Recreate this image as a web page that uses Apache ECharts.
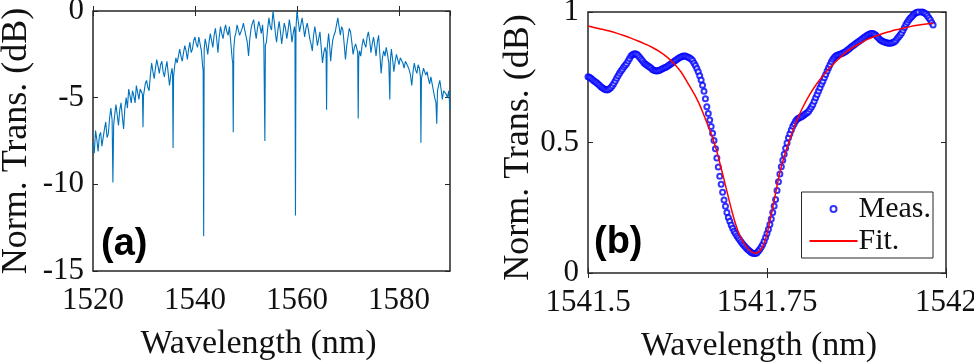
<!DOCTYPE html>
<html>
<head>
<meta charset="utf-8">
<script src="https://cdn.jsdelivr.net/npm/echarts@6/dist/echarts.min.js"></script>
<style>
  html, body { margin: 0; padding: 0; background: #fff; }
  #chart { width: 974px; height: 364px; }
</style>
</head>
<body>
<div id="chart"></div>
<script>
// (a) broadband transmission spectrum, [wavelength nm, dB]
const specA = [
  [1520.00,-7.6],[1520.25,-8.2],[1520.50,-6.9],[1520.75,-7.4],[1521.00,-8.1],[1521.25,-7.2],[1521.50,-7.0],[1521.75,-7.8],
  [1522.00,-7.9],[1522.25,-6.8],[1522.50,-6.4],[1522.75,-7.3],[1523.00,-7.1],[1523.25,-6.2],[1523.50,-5.6],[1523.75,-6.3],
  [1523.90,-9.9],[1524.05,-6.6],[1524.25,-6.0],[1524.50,-5.4],[1524.75,-6.0],[1525.00,-6.6],[1525.25,-5.7],[1525.50,-5.3],
  [1525.75,-6.1],[1526.00,-6.8],[1526.25,-5.6],[1526.50,-5.0],[1526.75,-5.6],[1527.00,-4.5],[1527.25,-4.9],[1527.50,-5.3],
  [1527.75,-4.6],[1528.00,-4.9],[1528.25,-5.3],[1528.50,-4.3],[1528.75,-4.7],[1529.00,-5.1],[1529.25,-4.5],[1529.50,-4.4],
  [1529.70,-4.8],[1529.80,-6.7],[1529.90,-4.9],[1530.25,-4.2],[1530.50,-4.0],[1530.75,-4.4],[1531.00,-4.6],[1531.25,-3.7],
  [1531.50,-3.0],[1531.75,-3.5],[1532.00,-3.9],[1532.25,-3.3],[1532.50,-2.8],[1532.75,-3.2],[1533.00,-3.6],[1533.25,-3.1],
  [1533.50,-2.9],[1533.75,-3.5],[1534.00,-3.8],[1534.25,-3.3],[1534.50,-2.9],[1534.75,-3.6],[1535.00,-4.3],[1535.25,-3.7],
  [1535.50,-3.3],[1535.60,-3.6],[1535.70,-7.9],[1535.80,-3.8],[1536.00,-3.2],[1536.25,-2.7],[1536.50,-3.0],[1536.75,-2.6],
  [1537.00,-2.2],[1537.25,-2.6],[1537.50,-2.9],[1537.75,-2.4],[1538.00,-2.0],[1538.25,-2.3],[1538.50,-2.8],[1538.75,-2.2],
  [1539.00,-1.8],[1539.25,-2.4],[1539.50,-2.2],[1539.75,-1.7],[1540.00,-1.5],[1540.25,-1.9],[1540.50,-2.1],[1540.75,-1.5],
  [1541.00,-1.6],[1541.25,-2.3],[1541.50,-3.2],[1541.60,-3.4],[1541.70,-13.0],[1541.80,-2.2],[1542.00,-1.6],[1542.25,-2.0],
  [1542.50,-2.5],[1542.75,-1.8],[1543.00,-1.3],[1543.25,-1.7],[1543.50,-2.1],[1543.75,-1.4],[1544.00,-1.0],[1544.25,-1.6],
  [1544.50,-2.4],[1544.75,-1.5],[1545.00,-0.9],[1545.25,-1.3],[1545.50,-1.6],[1545.75,-1.1],[1546.00,-0.8],[1546.25,-1.2],
  [1546.50,-1.4],[1546.75,-0.9],[1547.00,-1.0],[1547.30,-2.8],[1547.40,-3.0],[1547.50,-7.0],[1547.60,-2.2],[1547.80,-1.5],
  [1548.00,-1.3],[1548.25,-0.8],[1548.50,-0.9],[1548.75,-1.4],[1549.00,-1.5],[1549.25,-1.0],[1549.50,-0.7],[1549.75,-1.1],
  [1550.00,-1.2],[1550.25,-1.8],[1550.50,-2.6],[1550.75,-1.6],[1551.00,-1.0],[1551.25,-0.7],[1551.50,-0.5],[1551.75,-1.1],
  [1552.00,-1.6],[1552.25,-1.0],[1552.50,-0.6],[1552.75,-0.9],[1553.00,-1.3],[1553.25,-0.8],[1553.50,-1.9],[1553.60,-2.0],
  [1553.70,-7.5],[1553.80,-2.0],[1554.00,-1.8],[1554.25,-1.0],[1554.50,-0.4],[1554.75,-0.9],[1555.00,-1.1],[1555.30,0.0],
  [1555.60,-0.8],[1555.80,-1.4],[1556.00,-1.8],[1556.25,-1.1],[1556.50,-0.6],[1556.75,-1.2],[1557.00,-1.9],[1557.25,-1.3],
  [1557.50,-0.7],[1557.75,-1.0],[1558.00,-1.6],[1558.25,-1.1],[1558.50,-0.5],[1558.75,-1.0],[1559.00,-1.8],[1559.25,-1.3],
  [1559.50,-0.9],[1559.60,-1.2],[1559.70,-11.8],[1559.80,-1.0],[1560.00,0.0],[1560.25,-0.6],[1560.50,-1.2],[1560.75,-0.8],
  [1561.00,-0.4],[1561.25,-0.9],[1561.50,-1.5],[1561.75,-1.0],[1562.00,-0.7],[1562.25,-1.1],[1562.50,-1.6],[1562.75,-1.9],
  [1563.00,-2.3],[1563.25,-1.4],[1563.50,-0.9],[1563.75,-1.4],[1564.00,-2.0],[1564.25,-1.6],[1564.50,-1.2],[1564.75,-2.1],
  [1565.00,-3.0],[1565.25,-2.4],[1565.50,-2.1],[1565.70,-2.4],[1565.80,-5.7],[1565.90,-2.2],[1566.20,-1.3],[1566.40,-2.0],
  [1566.60,-2.9],[1566.80,-2.2],[1567.00,-1.7],[1567.25,-1.4],[1567.50,-1.2],[1567.75,-0.8],[1568.00,-0.4],[1568.25,-0.9],
  [1568.50,-1.4],[1568.75,-0.9],[1569.00,-1.1],[1569.25,-1.9],[1569.50,-2.8],[1569.75,-2.0],[1570.00,-1.5],[1570.25,-1.0],
  [1570.50,-1.2],[1570.75,-1.8],[1571.00,-2.5],[1571.25,-2.1],[1571.50,-1.9],[1571.75,-2.2],[1571.90,-2.4],[1572.00,-6.2],
  [1572.10,-2.7],[1572.25,-2.3],[1572.50,-2.6],[1572.75,-2.0],[1573.00,-1.6],[1573.25,-1.9],[1573.50,-2.1],[1573.75,-1.5],
  [1574.00,-1.2],[1574.25,-1.7],[1574.50,-2.4],[1574.75,-1.9],[1575.00,-1.5],[1575.25,-2.0],[1575.50,-2.6],[1575.75,-1.8],
  [1576.00,-1.4],[1576.25,-2.5],[1576.50,-3.6],[1576.75,-2.7],[1577.00,-2.3],[1577.25,-2.6],[1577.50,-2.1],[1577.75,-2.5],
  [1578.00,-3.0],[1578.10,-3.1],[1578.20,-5.1],[1578.30,-2.9],[1578.50,-2.2],[1578.75,-2.8],[1579.00,-3.5],[1579.25,-2.9],
  [1579.50,-2.5],[1579.75,-2.8],[1580.00,-3.1],[1580.25,-2.7],[1580.50,-2.6],[1580.75,-3.0],[1581.00,-3.3],[1581.25,-2.9],
  [1581.50,-2.8],[1581.75,-3.2],[1582.00,-3.4],[1582.25,-3.7],[1582.50,-4.3],[1582.75,-3.5],[1583.00,-3.0],[1583.25,-3.4],
  [1583.50,-3.6],[1583.75,-3.1],[1584.00,-3.3],[1584.20,-3.8],[1584.30,-7.6],[1584.40,-3.9],[1584.60,-3.6],[1584.80,-3.3],
  [1585.00,-3.2],[1585.25,-3.7],[1585.50,-3.5],[1585.75,-3.9],[1586.00,-4.2],[1586.25,-3.8],[1586.50,-3.9],[1586.75,-4.6],
  [1587.00,-5.0],[1587.25,-5.3],[1587.40,-6.5],[1587.55,-4.6],[1587.75,-4.3],[1588.00,-4.0],[1588.25,-4.5],[1588.50,-5.1],
  [1588.75,-4.6],[1589.00,-4.5],[1589.25,-4.8],[1589.50,-5.0],[1589.75,-4.6],[1590.00,-5.7]
];

// (b) single resonance, measured points [wavelength nm, normalized T]
const measB = [
  [1541.500,0.752],[1541.502,0.750],[1541.504,0.746],[1541.506,0.741],[1541.508,0.737],[1541.510,0.733],
  [1541.512,0.729],[1541.514,0.724],[1541.516,0.719],[1541.518,0.714],[1541.520,0.710],[1541.522,0.706],
  [1541.524,0.703],[1541.526,0.701],[1541.528,0.702],[1541.530,0.706],[1541.532,0.711],[1541.534,0.717],
  [1541.536,0.726],[1541.538,0.736],[1541.540,0.746],[1541.542,0.756],[1541.544,0.765],[1541.546,0.774],
  [1541.548,0.781],[1541.550,0.789],[1541.552,0.796],[1541.554,0.803],[1541.556,0.812],[1541.558,0.822],
  [1541.560,0.831],[1541.562,0.836],[1541.564,0.839],[1541.566,0.840],[1541.568,0.838],[1541.570,0.833],
  [1541.572,0.827],[1541.574,0.820],[1541.576,0.813],[1541.578,0.806],[1541.580,0.801],[1541.582,0.797],
  [1541.584,0.793],[1541.586,0.789],[1541.588,0.785],[1541.590,0.780],[1541.592,0.777],[1541.594,0.775],
  [1541.596,0.774],[1541.598,0.775],[1541.600,0.777],[1541.602,0.780],[1541.604,0.783],[1541.606,0.785],
  [1541.608,0.787],[1541.610,0.790],[1541.612,0.794],[1541.614,0.798],[1541.616,0.802],[1541.618,0.806],
  [1541.620,0.810],[1541.622,0.814],[1541.624,0.818],[1541.626,0.822],[1541.628,0.826],[1541.630,0.828],
  [1541.632,0.830],[1541.634,0.831],[1541.636,0.831],[1541.638,0.829],[1541.640,0.827],[1541.642,0.824],
  [1541.644,0.820],[1541.646,0.814],[1541.648,0.805],[1541.650,0.795],[1541.652,0.784],[1541.654,0.771],
  [1541.656,0.756],[1541.658,0.739],[1541.660,0.719],[1541.662,0.696],[1541.664,0.668],[1541.666,0.637],
  [1541.668,0.611],[1541.670,0.586],[1541.672,0.561],[1541.674,0.535],[1541.676,0.508],[1541.678,0.476],
  [1541.680,0.441],[1541.682,0.406],[1541.684,0.371],[1541.686,0.340],[1541.688,0.309],[1541.690,0.280],
  [1541.692,0.256],[1541.694,0.232],[1541.696,0.213],[1541.698,0.198],[1541.700,0.184],[1541.702,0.171],
  [1541.704,0.160],[1541.706,0.151],[1541.708,0.142],[1541.710,0.134],[1541.712,0.126],[1541.714,0.119],
  [1541.716,0.111],[1541.718,0.105],[1541.720,0.099],[1541.722,0.093],[1541.724,0.088],[1541.726,0.083],
  [1541.728,0.079],[1541.730,0.076],[1541.732,0.075],[1541.734,0.075],[1541.736,0.078],[1541.738,0.084],
  [1541.740,0.091],[1541.742,0.100],[1541.744,0.109],[1541.746,0.122],[1541.748,0.136],[1541.750,0.151],
  [1541.752,0.168],[1541.754,0.186],[1541.756,0.207],[1541.758,0.232],[1541.760,0.257],[1541.762,0.282],
  [1541.764,0.316],[1541.766,0.350],[1541.768,0.379],[1541.770,0.407],[1541.772,0.432],[1541.774,0.455],
  [1541.776,0.478],[1541.778,0.498],[1541.780,0.518],[1541.782,0.534],[1541.784,0.548],[1541.786,0.562],
  [1541.788,0.572],[1541.790,0.582],[1541.792,0.589],[1541.794,0.593],[1541.796,0.596],[1541.798,0.599],
  [1541.800,0.602],[1541.802,0.606],[1541.804,0.610],[1541.806,0.614],[1541.808,0.619],[1541.810,0.627],
  [1541.812,0.636],[1541.814,0.646],[1541.816,0.658],[1541.818,0.671],[1541.820,0.684],[1541.822,0.697],
  [1541.824,0.710],[1541.826,0.723],[1541.828,0.735],[1541.830,0.748],[1541.832,0.761],[1541.834,0.774],
  [1541.836,0.786],[1541.838,0.798],[1541.840,0.809],[1541.842,0.819],[1541.844,0.826],[1541.846,0.831],
  [1541.848,0.834],[1541.850,0.836],[1541.852,0.838],[1541.854,0.840],[1541.856,0.843],[1541.858,0.846],
  [1541.860,0.849],[1541.862,0.853],[1541.864,0.857],[1541.866,0.862],[1541.868,0.867],[1541.870,0.871],
  [1541.872,0.875],[1541.874,0.879],[1541.876,0.883],[1541.878,0.887],[1541.880,0.891],[1541.882,0.895],
  [1541.884,0.899],[1541.886,0.903],[1541.888,0.907],[1541.890,0.911],[1541.892,0.914],[1541.894,0.917],
  [1541.896,0.918],[1541.898,0.918],[1541.900,0.915],[1541.902,0.911],[1541.904,0.905],[1541.906,0.899],
  [1541.908,0.894],[1541.910,0.890],[1541.912,0.887],[1541.914,0.885],[1541.916,0.883],[1541.918,0.881],
  [1541.920,0.880],[1541.922,0.880],[1541.924,0.881],[1541.926,0.883],[1541.928,0.886],[1541.930,0.891],
  [1541.932,0.898],[1541.934,0.905],[1541.936,0.912],[1541.938,0.920],[1541.940,0.930],[1541.942,0.941],
  [1541.944,0.952],[1541.946,0.961],[1541.948,0.969],[1541.950,0.976],[1541.952,0.982],[1541.954,0.988],
  [1541.956,0.993],[1541.958,0.997],[1541.960,0.999],[1541.962,1.000],[1541.964,1.001],[1541.966,1.000],
  [1541.968,0.999],[1541.970,0.996],[1541.972,0.992],[1541.974,0.986],[1541.976,0.978],[1541.978,0.970],
  [1541.980,0.960],[1541.982,0.950]
];

// (b) fitted curve
const fitB = [
  [1541.500,0.946],[1541.510,0.940],[1541.520,0.934],[1541.530,0.927],[1541.540,0.919],[1541.550,0.910],
  [1541.560,0.900],[1541.570,0.889],[1541.580,0.877],[1541.590,0.864],[1541.600,0.848],[1541.610,0.828],
  [1541.620,0.803],[1541.630,0.770],[1541.640,0.725],[1541.650,0.678],[1541.655,0.650],[1541.660,0.618],
  [1541.665,0.583],[1541.670,0.548],[1541.675,0.510],[1541.680,0.465],[1541.685,0.412],[1541.690,0.358],
  [1541.695,0.302],[1541.700,0.247],[1541.705,0.197],[1541.710,0.157],[1541.715,0.128],[1541.720,0.106],
  [1541.725,0.089],[1541.730,0.079],[1541.734,0.076],[1541.738,0.080],[1541.742,0.092],[1541.746,0.113],
  [1541.750,0.150],[1541.755,0.210],[1541.760,0.278],[1541.765,0.347],[1541.770,0.408],[1541.775,0.455],
  [1541.780,0.497],[1541.785,0.536],[1541.790,0.573],[1541.795,0.605],[1541.800,0.635],[1541.810,0.685],
  [1541.820,0.727],[1541.830,0.762],[1541.840,0.793],[1541.850,0.820],[1541.860,0.845],[1541.870,0.864],
  [1541.880,0.880],[1541.890,0.895],[1541.900,0.906],[1541.910,0.916],[1541.920,0.924],[1541.930,0.932],
  [1541.940,0.938],[1541.950,0.944],[1541.960,0.949],[1541.970,0.953],[1541.982,0.957]
];

const serif = "'Liberation Serif', 'Times New Roman', serif";
const ink = '#111';

function boxAxes(gridIndex, min, max, interval, showLabel, kind, pos, label) {
  return {
    type: 'value', gridIndex: gridIndex, position: pos,
    min: min, max: max, interval: interval,
    axisLine: { show: false },
    axisTick: { show: true, inside: true, length: 5, lineStyle: { color: '#262626', width: 1 } },
    splitLine: { show: false },
    axisLabel: {
      show: showLabel, color: ink, fontFamily: serif, fontSize: 31,
      margin: kind === 'x' ? 14 : 9,
      formatter: v => String(+v.toFixed(2))
    },
    name: label || '', nameLocation: 'middle',
    nameTextStyle: { color: ink, fontFamily: serif, fontSize: 34 }
  };
}

const xA = boxAxes(0, 1520, 1590, 20, true, 'x', 'bottom', 'Wavelength (nm)');
xA.nameGap = 56;
xA.nameTextStyle.padding = [0, 26, 0, 0];
const xAt = boxAxes(0, 1520, 1590, 20, false, 'x', 'top');
const yA = boxAxes(0, -15, 0, 5, true, 'y', 'left', 'Norm. Trans. (dB)');
yA.nameGap = 58;
yA.nameTextStyle.fontSize = 36;
const yAr = boxAxes(0, -15, 0, 5, false, 'y', 'right');

const xB = boxAxes(1, 1541.5, 1542, 0.25, true, 'x', 'bottom', 'Wavelength (nm)');
xB.nameGap = 56;
xB.nameTextStyle.padding = [0, 16, 0, 0];
const xBt = boxAxes(1, 1541.5, 1542, 0.25, false, 'x', 'top');
const yB = boxAxes(1, 0, 1, 0.5, true, 'y', 'left', 'Norm. Trans. (dB)');
yB.nameGap = 50;
yB.nameTextStyle.fontSize = 36;
yB.nameTextStyle.padding = [0, 10, 0, 0];
const yBr = boxAxes(1, 0, 1, 0.5, false, 'y', 'right');

const chart = echarts.init(document.getElementById('chart'), null, { renderer: 'canvas' });

const option = {
  backgroundColor: '#fff',
  animation: false,
  textStyle: { fontFamily: serif },
  grid: [
    { left: 93, right: 524, top: 11, bottom: 93, show: true, borderColor: '#262626', borderWidth: 1.5,
      backgroundColor: 'transparent', outerBoundsMode: 'none' },
    { left: 588, right: 28, top: 12, bottom: 91, show: true, borderColor: '#262626', borderWidth: 1.5,
      backgroundColor: 'transparent', outerBoundsMode: 'none' }
  ],
  xAxis: [xA, xAt, xB, xBt],
  yAxis: [yA, yAr, yB, yBr],
  title: [
    { text: '(a)', left: 101, top: 226, padding: 0,
      textStyle: { fontFamily: 'Liberation Sans', fontWeight: 'bold', fontSize: 38, color: '#000' } },
    { text: '(b)', left: 594, top: 224, padding: 0,
      textStyle: { fontFamily: 'Liberation Sans', fontWeight: 'bold', fontSize: 38, color: '#000' } }
  ],
  legend: {
    data: [{ name: 'Meas.' }, { name: 'Fit.', itemStyle: { opacity: 0 } }],
    orient: 'vertical',
    right: 41, top: 192,
    padding: [2, 2, 2, 7],
    itemGap: 2,
    itemWidth: 48, itemHeight: 6,
    borderColor: '#262626', borderWidth: 1,
    backgroundColor: '#fff',
    textStyle: { fontFamily: serif, fontSize: 30, color: ink, padding: [0, 0, 0, -4] }
  },
  series: [
    {
      name: 'spectrum', type: 'line', xAxisIndex: 0, yAxisIndex: 0,
      data: specA, showSymbol: false, symbol: 'none',
      lineStyle: { color: '#0072BD', width: 1.1 }
    },
    {
      name: 'Meas.', type: 'scatter', xAxisIndex: 2, yAxisIndex: 2,
      data: measB, symbol: 'emptyCircle', symbolSize: 5,
      itemStyle: { color: '#0000FF', borderColor: '#0000FF', borderWidth: 1.5 }
    },
    {
      name: 'Fit.', type: 'line', xAxisIndex: 2, yAxisIndex: 2,
      data: fitB, smooth: 0.3, showSymbol: false, symbol: 'none',
      itemStyle: { color: '#FF0000' },
      lineStyle: { color: '#FF0000', width: 1.5 }
    }
  ]
};

chart.setOption(option);
</script>
</body>
</html>
